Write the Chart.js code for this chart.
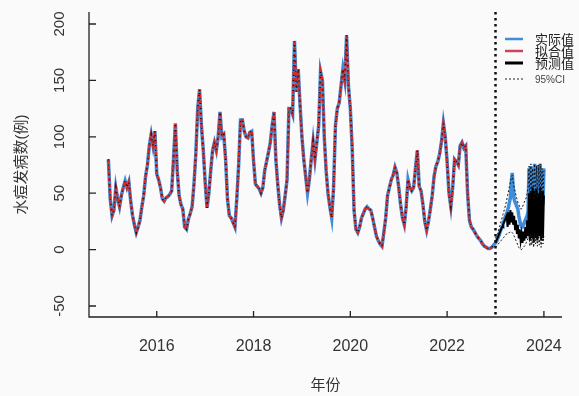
<!DOCTYPE html>
<html>
<head>
<meta charset="utf-8">
<script src="https://cdn.jsdelivr.net/npm/chart.js@4"></script>
<style>
  html, body { margin: 0; padding: 0; background: #fafafa; }
  canvas { display: block; }
</style>
</head>
<body>
<canvas id="chart" width="579" height="396"></canvas>
<script>
// biweekly values (26 per year)
const actual2015 = [80, 45, 30, 35, 55, 45, 38, 48, 55, 61, 55, 60, 43, 30, 22, 15, 20, 26, 38, 48, 65, 75, 92, 102, 92, 105];
const actual2016 = [67, 62, 55, 45, 43, 46, 47, 49, 52, 80, 112, 70, 48, 40, 36, 20, 18, 27, 32, 38, 58, 85, 125, 142, 110, 88];
const actual2017 = [60, 37, 50, 70, 88, 95, 88, 100, 122, 100, 102, 80, 45, 30, 28, 24, 20, 45, 75, 115, 115, 105, 100, 99, 104, 105];
const actual2018 = [79, 58, 56, 54, 50, 55, 70, 78, 86, 95, 110, 122, 80, 58, 40, 28, 35, 48, 62, 125, 125, 120, 185, 140, 160, 128];
const actual2019 = [100, 80, 65, 50, 62, 80, 96, 80, 95, 110, 158, 150, 100, 70, 50, 38, 28, 55, 110, 125, 130, 145, 160, 150, 190, 145];
const actual2020 = [125, 90, 35, 18, 15, 20, 28, 32, 36, 38, 36, 35, 28, 20, 12, 8, 5, 3, 15, 28, 48, 55, 62, 66, 73, 68];
const actual2021 = [55, 40, 28, 22, 38, 62, 55, 52, 55, 72, 88, 56, 52, 40, 25, 17, 25, 36, 48, 65, 74, 78, 85, 96, 112, 100];
const actual2022 = [78, 50, 38, 55, 80, 78, 75, 92, 95, 90, 92, 50, 26, 20, 18, 15, 12, 10, 8, 5, 3, 2, 1, 1, 2, 4];

// forecast year, weekly
const actual2023 = [6, 7, 9, 11, 13, 16, 18, 20, 23, 25, 28, 30, 32, 35, 38, 42, 46,
  60, 68, 55,
  45, 42, 40, 38, 36, 30, 26, 22,
  20, 20, 22, 24, 26, 28, 30, 34,
  72, 30, 74, 35, 68, 28, 76, 32, 75, 26, 72, 30, 76, 34, 70, 40, 72];
const pred2023 = [6, 8, 10, 12, 14, 16, 18, 20, 22, 24, 26, 28,
  30, 20, 33, 22, 35, 24, 33, 22, 30, 18, 26, 14, 22, 10, 18, 8,
  14, 6, 16, 8, 20, 10, 26, 12,
  50, 8, 52, 10, 55, 6, 52, 10, 54, 8, 50, 12, 55, 8, 52, 10, 48];
const upper2023 = [10, 12, 14, 16, 19, 22, 25, 28, 31, 34, 37, 40, 44, 48, 52, 56, 60, 64,
  66, 60, 55, 52, 48, 45, 42, 40, 38, 36,
  36, 38, 40, 42, 44, 46, 50, 55,
  74, 45, 76, 50, 72, 44, 76, 48, 74, 46, 75, 50, 76, 44, 72, 48, 70];
const lower2023 = [2, 3, 4, 5, 6, 7, 8, 9, 10, 11, 12, 13, 14, 14, 15, 15, 16, 16,
  15, 14, 12, 10, 8, 6, 4, 2, 1, 0,
  0, 1, 2, 3, 4, 6, 8, 10,
  12, 3, 14, 4, 12, 2, 15, 5, 13, 3, 14, 4, 12, 2, 14, 5, 12];

const histYears = [2015, 2016, 2017, 2018, 2019, 2020, 2021, 2022];
const histValues = [actual2015, actual2016, actual2017, actual2018, actual2019, actual2020, actual2021, actual2022];

const xTicks = [2016, 2018, 2020, 2022, 2024];
const yTicks = [-50, 0, 50, 100, 150, 200];
const cutYear = 2023;

const legendLabels = ["实际值", "拟合值", "预测值", "95%CI"];
const yTitle = "水痘发病数(例)";
const xTitle = "年份";

const BLUE = "#3d8ddb";
const RED = "#d42b2b";

function toPoints(start, values, perYear) {
  return values.map((v, i) => ({ x: start + i / perYear, y: v }));
}

const history = histYears.flatMap((yr, k) => toPoints(yr, histValues[k], 26));
// the fitted curve sits right on the observed one in the picture
const fitted = history;

const font = '"Liberation Sans", Arial, "Noto Sans CJK SC", sans-serif';

const rAxes = {
  id: "rAxes",
  afterDatasetsDraw(chart) {
    const { ctx, chartArea: a, scales: { x, y } } = chart;
    ctx.save();

    // forecast cut line
    const cx = x.getPixelForValue(cutYear);
    ctx.strokeStyle = "#111";
    ctx.lineWidth = 2.5;
    ctx.setLineDash([2.5, 3.5]);
    ctx.beginPath();
    ctx.moveTo(cx, a.top);
    ctx.lineTo(cx, a.bottom);
    ctx.stroke();
    ctx.setLineDash([]);

    // L-shaped box
    ctx.strokeStyle = "#222";
    ctx.lineWidth = 1.3;
    ctx.beginPath();
    ctx.moveTo(a.left, a.top);
    ctx.lineTo(a.left, a.bottom);
    ctx.lineTo(a.right, a.bottom);
    ctx.stroke();

    ctx.fillStyle = "#333";
    ctx.beginPath();
    yTicks.forEach(v => {
      const py = y.getPixelForValue(v);
      ctx.moveTo(a.left, py);
      ctx.lineTo(a.left + 7, py);
    });
    xTicks.forEach(v => {
      const px = x.getPixelForValue(v);
      ctx.moveTo(px, a.bottom);
      ctx.lineTo(px, a.bottom - 6);
    });
    ctx.stroke();

    ctx.font = "15px " + font;
    ctx.textAlign = "center";
    ctx.textBaseline = "middle";
    yTicks.forEach(v => {
      const py = y.getPixelForValue(v);
      ctx.save();
      ctx.translate(60, py);
      ctx.rotate(-Math.PI / 2);
      ctx.fillText(String(v), 0, 0);
      ctx.restore();
    });
    ctx.font = "16px " + font;
    xTicks.forEach(v => {
      ctx.fillText(String(v), x.getPixelForValue(v), 347);
    });

    ctx.font = "15px " + font;
    ctx.fillText(xTitle, (a.left + a.right) / 2, 386);
    ctx.save();
    ctx.translate(22, (a.top + a.bottom) / 2);
    ctx.rotate(-Math.PI / 2);
    ctx.fillText(yTitle, 0, 0);
    ctx.restore();

    // legend
    const rows = [39, 51, 63, 79];
    const styles = [
      { c: BLUE, w: 2.5, d: [] },
      { c: "#c9465c", w: 2.5, d: [] },
      { c: "#000", w: 3, d: [] },
      { c: "#222", w: 1, d: [2, 2] }
    ];
    ctx.textAlign = "left";
    rows.forEach((ry, i) => {
      ctx.strokeStyle = styles[i].c;
      ctx.lineWidth = styles[i].w;
      ctx.setLineDash(styles[i].d);
      ctx.beginPath();
      ctx.moveTo(505, ry);
      ctx.lineTo(523, ry);
      ctx.stroke();
      ctx.setLineDash([]);
      ctx.fillStyle = i === 3 ? "#444" : "#222";
      ctx.font = (i === 3 ? "10px " : "13px ") + font;
      ctx.fillText(legendLabels[i], 535, ry + 1);
    });

    ctx.restore();
  }
};

new Chart(document.getElementById("chart"), {
  type: "line",
  data: {
    datasets: [
      { label: "95%CI upper", data: toPoints(cutYear, upper2023, 52), borderColor: "#111", borderWidth: 1, borderDash: [2, 2], order: 1 },
      { label: "95%CI lower", data: toPoints(cutYear, lower2023, 52), borderColor: "#111", borderWidth: 1, borderDash: [2, 2], order: 1 },
      { label: "预测值", data: toPoints(cutYear, pred2023, 52), borderColor: "#000", borderWidth: 2, order: 2 },
      { label: "history dots", data: history, borderColor: "#111", borderWidth: 1.5, borderDash: [1, 4], order: 3 },
      { label: "拟合值", data: fitted, borderColor: RED, borderWidth: 2.5, borderDash: [4, 2], order: 4 },
      { label: "实际值", data: history.concat(toPoints(cutYear, actual2023, 52)), borderColor: BLUE, borderWidth: 3.5, order: 5 }
    ]
  },
  options: {
    responsive: false,
    animation: false,
    layout: { padding: { left: 89, top: 12, right: 17, bottom: 79 } },
    elements: { point: { radius: 0 }, line: { tension: 0, fill: false } },
    plugins: { legend: { display: false }, tooltip: { enabled: false } },
    scales: {
      x: { type: "linear", min: 2014.6, max: 2024.374, display: false },
      y: { type: "linear", min: -59.75, max: 210.64, display: false }
    }
  },
  plugins: [rAxes]
});
</script>
</body>
</html>
